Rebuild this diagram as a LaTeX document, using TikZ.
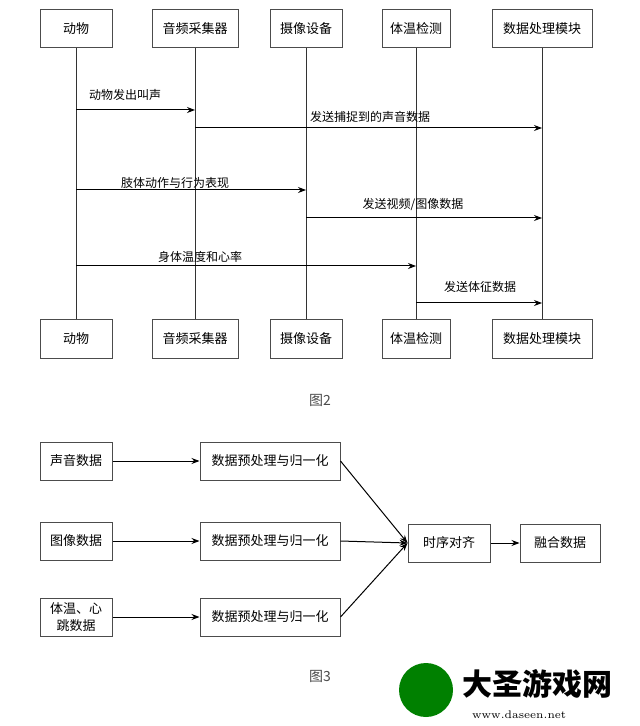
\documentclass[tikz,border=0pt]{standalone}
\usepackage{fontspec}
\newfontfamily\cjk{Noto Sans CJK SC}
\usetikzlibrary{arrows.meta}
\begin{document}
\begin{tikzpicture}[x=0.5pt,y=-0.5pt,
  box/.style={draw=black!70,line width=0.5pt,minimum height=19pt,inner sep=1pt,font=\cjk\fontsize{6.5}{8.5}\selectfont},
  msg/.style={-{Stealth[length=4pt]},line width=0.5pt},
  lab/.style={font=\cjk\fontsize{6}{7.5}\selectfont,inner sep=1pt},
  life/.style={line width=0.5pt,black!80}]
\useasboundingbox (0,0) rectangle (640,726);
% Figure 2
\foreach \n/\x/\w/\t in {a/76/36/动物,b/195/43/音频采集器,c/306/36/摄像设备,d/416/34/体温检测,e/542/50/数据处理模块}{
  \node[box,minimum width=\w pt] (\n1) at (\x,29) {\t};
  \node[box,minimum width=\w pt] (\n2) at (\x,339) {\t};
  \draw[life] (\n1.south) -- (\n2.north);
}
\path (76,110) coordinate (m1s) (195,110) coordinate (m1e)
      (195,128) coordinate (m2s) (542,128) coordinate (m2e)
      (76,190) coordinate (m3s) (306,190) coordinate (m3e)
      (306,218) coordinate (m4s) (542,218) coordinate (m4e)
      (76,266) coordinate (m5s) (416,266) coordinate (m5e)
      (416,303) coordinate (m6s) (542,303) coordinate (m6e);
\draw[msg] (m1s) -- (m1e); \node[lab] (l1) at (125,95) {动物发出叫声};
\draw[msg] (m2s) -- (m2e); \node[lab] (l2) at (370,117) {发送捕捉到的声音数据};
\draw[msg] (m3s) -- (m3e); \node[lab] (l3) at (175,183) {肢体动作与行为表现};
\draw[msg] (m4s) -- (m4e); \node[lab] (l4) at (413,205) {发送视频/图像数据};
\draw[msg] (m5s) -- (m5e); \node[lab] (l5) at (200,257) {身体温度和心率};
\draw[msg] (m6s) -- (m6e); \node[lab] (l6) at (480,287) {发送体征数据};
\node[font=\cjk\fontsize{7}{9}\selectfont,black!70] (f2) at (320,400) {图2};
% Figure 3
\node[box,minimum width=36pt] (s1) at (76,461) {声音数据};
\node[box,minimum width=36pt] (s2) at (76,541) {图像数据};
\node[box,minimum width=36pt,align=center] (s3) at (76,617) {体温、心\\跳数据};
\node[box,minimum width=70pt] (p1) at (270,461) {数据预处理与归一化};
\node[box,minimum width=70pt] (p2) at (270,541) {数据预处理与归一化};
\node[box,minimum width=70pt] (p3) at (270,617) {数据预处理与归一化};
\node[box,minimum width=41pt] (t) at (449,543) {时序对齐};
\node[box,minimum width=40pt] (r) at (560,543) {融合数据};
\foreach \i in {1,2,3}{\draw[msg] (s\i) -- (p\i); \draw[msg] (p\i.east) -- (t.west);}
\draw[msg] (t) -- (r);
\node[font=\cjk\fontsize{7}{9}\selectfont,black!70] (f3) at (320,676) {图3};
% watermark
\node[circle,fill=green!50!black,minimum size=27pt] (logo) at (426,690) {};
\node[font=\cjk\bfseries\fontsize{15}{17}\selectfont,anchor=west] (wm) at (455,684) {大圣游戏网};
\node[font=\fontsize{5.5}{7}\selectfont,anchor=west] (url) at (465,715) {www.daseen.net};
\end{tikzpicture}
\end{document}
